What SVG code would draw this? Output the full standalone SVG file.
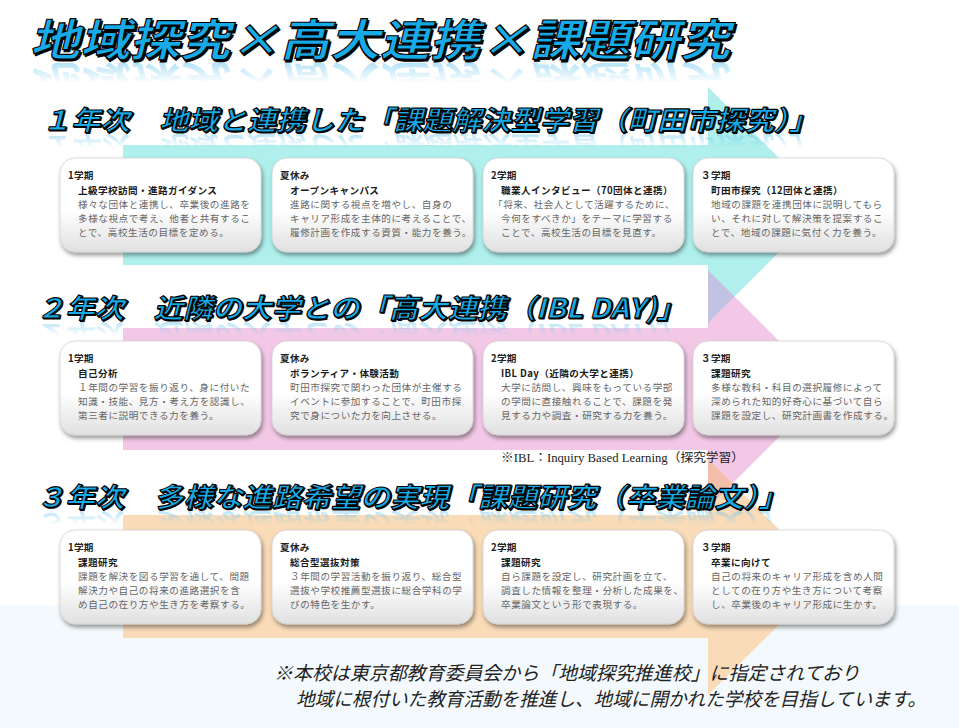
<svg xmlns="http://www.w3.org/2000/svg" width="959" height="728" viewBox="0 0 959 728">
<style>
.hd{font-family:"Noto Sans CJK JP","Noto Sans CJK SC",sans-serif;font-weight:700;fill:#16abe8;stroke:#000;stroke-width:1.1}
.hs{font-family:"Noto Sans CJK JP","Noto Sans CJK SC",sans-serif;font-weight:700;fill:#000;stroke:#000;stroke-width:1}
.rf{font-family:"Noto Sans CJK JP","Noto Sans CJK SC",sans-serif;font-weight:700}
.card{fill:url(#cardG);stroke:#d2d2d2;stroke-width:0.8;filter:url(#sh)}
.h{font-family:"Noto Sans CJK JP",sans-serif;font-weight:700;font-size:9.6px;letter-spacing:0.3px;fill:#222}
.t{font-family:"Noto Sans CJK JP",sans-serif;font-weight:700;font-size:9.6px;letter-spacing:0.4px;fill:#1a1a1a}
.b{font-family:"Noto Sans CJK JP",sans-serif;font-size:9.6px;letter-spacing:0.55px;fill:#666}
.ft{font-family:"Noto Sans CJK JP",sans-serif;font-style:italic;font-size:19px;fill:#222}
.note{font-family:"Liberation Serif","Noto Sans CJK JP",serif;font-size:12px;fill:#222}
</style>
<defs>
<linearGradient id="cardG" x1="0" y1="0" x2="0" y2="1">
<stop offset="0" stop-color="#ffffff"/>
<stop offset="0.55" stop-color="#ffffff"/>
<stop offset="1" stop-color="#e0e0e0"/>
</linearGradient>
<filter id="sh" x="-10%" y="-10%" width="125%" height="130%">
<feDropShadow dx="1.5" dy="3" stdDeviation="2" flood-color="#000" flood-opacity="0.4"/>
</filter>
<linearGradient id="reflT" gradientUnits="userSpaceOnUse" x1="0" y1="5" x2="0" y2="-17">
<stop offset="0" stop-color="#6cc6ee" stop-opacity="0.55"/>
<stop offset="1" stop-color="#6cc6ee" stop-opacity="0"/>
</linearGradient>
<linearGradient id="reflH" gradientUnits="userSpaceOnUse" x1="0" y1="3" x2="0" y2="-12">
<stop offset="0" stop-color="#6cc6ee" stop-opacity="0.5"/>
<stop offset="1" stop-color="#6cc6ee" stop-opacity="0"/>
</linearGradient>
</defs>
<rect width="959" height="728" fill="#ffffff"/>
<rect x="0" y="605" width="959" height="123" fill="#f3f9fd"/>
<g id="connectors">
<polygon points="123,145 708,145 708,87 826,205 708,323 708,265 123,265" fill="#aff0ec"/>
<polygon points="123,328 708,328 708,270 827,389 708,508 708,450 123,450" fill="#f2c8e6"/>
<polygon points="123,515 708,515 708,459 827,577 708,695 708,638 123,638" fill="#f9dbb8"/>
<polygon points="708,270 734.5,296.5 708,323" fill="#c2c3e2"/>
<polygon points="708,459 732.5,483.5 708,508" fill="#f4bfaa"/>
</g>
<g id="title">
<text class="rf" fill="url(#reflT)" font-size="44" textLength="700" lengthAdjust="spacingAndGlyphs" transform="matrix(1 0 0 -1 0 122) translate(30,56) skewX(-14)">地域探究×高大連携×課題研究</text>
<text class="hs" font-size="44" textLength="700" lengthAdjust="spacingAndGlyphs" transform="translate(31.5,57.5) skewX(-14)">地域探究×高大連携×課題研究</text>
<text class="hd" font-size="44" textLength="700" lengthAdjust="spacingAndGlyphs" transform="translate(30,56) skewX(-14)">地域探究×高大連携×課題研究</text>
</g>
<g id="heading1">
<text class="rf" fill="url(#reflH)" font-size="27" textLength="776" lengthAdjust="spacingAndGlyphs" transform="matrix(1 0 0 -1 0 266) translate(42,130) skewX(-14)">１年次　地域と連携した「課題解決型学習（町田市探究）」</text>
<text class="hs" font-size="27" textLength="776" lengthAdjust="spacingAndGlyphs" transform="translate(43,131) skewX(-14)">１年次　地域と連携した「課題解決型学習（町田市探究）」</text>
<text class="hd" font-size="27" textLength="776" lengthAdjust="spacingAndGlyphs" transform="translate(42,130) skewX(-14)">１年次　地域と連携した「課題解決型学習（町田市探究）」</text>
</g>
<g id="heading2">
<text class="rf" fill="url(#reflH)" font-size="27" textLength="650" lengthAdjust="spacingAndGlyphs" transform="matrix(1 0 0 -1 0 642) translate(36,318) skewX(-14)">２年次　近隣の大学との「高大連携（IBL DAY)」</text>
<text class="hs" font-size="27" textLength="650" lengthAdjust="spacingAndGlyphs" transform="translate(37,319) skewX(-14)">２年次　近隣の大学との「高大連携（IBL DAY)」</text>
<text class="hd" font-size="27" textLength="650" lengthAdjust="spacingAndGlyphs" transform="translate(36,318) skewX(-14)">２年次　近隣の大学との「高大連携（IBL DAY)」</text>
</g>
<g id="heading3">
<text class="rf" fill="url(#reflH)" font-size="27" textLength="752" lengthAdjust="spacingAndGlyphs" transform="matrix(1 0 0 -1 0 1020) translate(36,507) skewX(-14)">３年次　多様な進路希望の実現「課題研究（卒業論文）」</text>
<text class="hs" font-size="27" textLength="752" lengthAdjust="spacingAndGlyphs" transform="translate(37,508) skewX(-14)">３年次　多様な進路希望の実現「課題研究（卒業論文）」</text>
<text class="hd" font-size="27" textLength="752" lengthAdjust="spacingAndGlyphs" transform="translate(36,507) skewX(-14)">３年次　多様な進路希望の実現「課題研究（卒業論文）」</text>
</g>
<g id="y1-t1" transform="translate(60,158)">
<rect class="card" width="201" height="94" rx="15"/>
<text class="h" x="8" y="21">1学期</text>
<text class="t" x="18" y="36">上級学校訪問・進路ガイダンス</text>
<text class="b" x="18" y="50">様々な団体と連携し、卒業後の進路を</text>
<text class="b" x="18" y="64">多様な視点で考え、他者と共有するこ</text>
<text class="b" x="18" y="78">とで、高校生活の目標を定める。</text>
</g>
<g id="y1-s" transform="translate(272,158)">
<rect class="card" width="201" height="94" rx="15"/>
<text class="h" x="8" y="21">夏休み</text>
<text class="t" x="18" y="36">オープンキャンパス</text>
<text class="b" x="18" y="50">進路に関する視点を増やし、自身の</text>
<text class="b" x="18" y="64">キャリア形成を主体的に考えることで、</text>
<text class="b" x="18" y="78">履修計画を作成する資質・能力を養う。</text>
</g>
<g id="y1-t2" transform="translate(483,158)">
<rect class="card" width="201" height="94" rx="15"/>
<text class="h" x="8" y="21">2学期</text>
<text class="t" x="18" y="36">職業人インタビュー（70団体と連携）</text>
<text class="b" x="10" y="50">「将来、社会人として活躍するために、</text>
<text class="b" x="18" y="64">今何をすべきか」をテーマに学習する</text>
<text class="b" x="18" y="78">ことで、高校生活の目標を見直す。</text>
</g>
<g id="y1-t3" transform="translate(693,158)">
<rect class="card" width="201" height="94" rx="15"/>
<text class="h" x="8" y="21">３学期</text>
<text class="t" x="18" y="36">町田市探究（12団体と連携）</text>
<text class="b" x="18" y="50">地域の課題を連携団体に説明してもら</text>
<text class="b" x="18" y="64">い、それに対して解決策を提案するこ</text>
<text class="b" x="18" y="78">とで、地域の課題に気付く力を養う。</text>
</g>
<g id="y2-t1" transform="translate(60,341)">
<rect class="card" width="201" height="94" rx="15"/>
<text class="h" x="8" y="21">1学期</text>
<text class="t" x="18" y="36">自己分析</text>
<text class="b" x="18" y="50">１年間の学習を振り返り、身に付いた</text>
<text class="b" x="18" y="64">知識・技能、見方・考え方を認識し、</text>
<text class="b" x="18" y="78">第三者に説明できる力を養う。</text>
</g>
<g id="y2-s" transform="translate(272,341)">
<rect class="card" width="201" height="94" rx="15"/>
<text class="h" x="8" y="21">夏休み</text>
<text class="t" x="18" y="36">ボランティア・体験活動</text>
<text class="b" x="18" y="50">町田市探究で関わった団体が主催する</text>
<text class="b" x="18" y="64">イベントに参加することで、町田市探</text>
<text class="b" x="18" y="78">究で身についた力を向上させる。</text>
</g>
<g id="y2-t2" transform="translate(483,341)">
<rect class="card" width="201" height="94" rx="15"/>
<text class="h" x="8" y="21">2学期</text>
<text class="t" x="18" y="36">IBL Day（近隣の大学と連携）</text>
<text class="b" x="18" y="50">大学に訪問し、興味をもっている学部</text>
<text class="b" x="18" y="64">の学問に直接触れることで、課題を発</text>
<text class="b" x="18" y="78">見する力や調査・研究する力を養う。</text>
</g>
<g id="y2-t3" transform="translate(693,341)">
<rect class="card" width="201" height="94" rx="15"/>
<text class="h" x="8" y="21">３学期</text>
<text class="t" x="18" y="36">課題研究</text>
<text class="b" x="18" y="50">多様な教科・科目の選択履修によって</text>
<text class="b" x="18" y="64">深められた知的好奇心に基づいて自ら</text>
<text class="b" x="18" y="78">課題を設定し、研究計画書を作成する。</text>
</g>
<g id="y3-t1" transform="translate(60,530)">
<rect class="card" width="201" height="94" rx="15"/>
<text class="h" x="8" y="21">1学期</text>
<text class="t" x="18" y="36">課題研究</text>
<text class="b" x="18" y="50">課題を解決を図る学習を通して、問題</text>
<text class="b" x="18" y="64">解決力や自己の将来の進路選択を含</text>
<text class="b" x="18" y="78">め自己の在り方や生き方を考察する。</text>
</g>
<g id="y3-s" transform="translate(272,530)">
<rect class="card" width="201" height="94" rx="15"/>
<text class="h" x="8" y="21">夏休み</text>
<text class="t" x="18" y="36">総合型選抜対策</text>
<text class="b" x="18" y="50">３年間の学習活動を振り返り、総合型</text>
<text class="b" x="18" y="64">選抜や学校推薦型選抜に総合学科の学</text>
<text class="b" x="18" y="78">びの特色を生かす。</text>
</g>
<g id="y3-t2" transform="translate(483,530)">
<rect class="card" width="201" height="94" rx="15"/>
<text class="h" x="8" y="21">2学期</text>
<text class="t" x="18" y="36">課題研究</text>
<text class="b" x="18" y="50">自ら課題を設定し、研究計画を立て、</text>
<text class="b" x="18" y="64">調査した情報を整理・分析した成果を、</text>
<text class="b" x="18" y="78">卒業論文という形で表現する。</text>
</g>
<g id="y3-t3" transform="translate(693,530)">
<rect class="card" width="201" height="94" rx="15"/>
<text class="h" x="8" y="21">３学期</text>
<text class="t" x="18" y="36">卒業に向けて</text>
<text class="b" x="18" y="50">自己の将来のキャリア形成を含め人間</text>
<text class="b" x="18" y="64">としての在り方や生き方について考察</text>
<text class="b" x="18" y="78">し、卒業後のキャリア形成に生かす。</text>
</g>
<g id="note">
<text class="note" x="501" y="462" textLength="243" lengthAdjust="spacingAndGlyphs">※IBL：Inquiry Based Learning（探究学習）</text>
</g>
<g id="footer">
<text class="ft" x="274" y="680" textLength="586" lengthAdjust="spacingAndGlyphs">※本校は東京都教育委員会から「地域探究推進校」に指定されており</text>
<text class="ft" x="296" y="706" textLength="630" lengthAdjust="spacingAndGlyphs">地域に根付いた教育活動を推進し、地域に開かれた学校を目指しています。</text>
</g>
</svg>
